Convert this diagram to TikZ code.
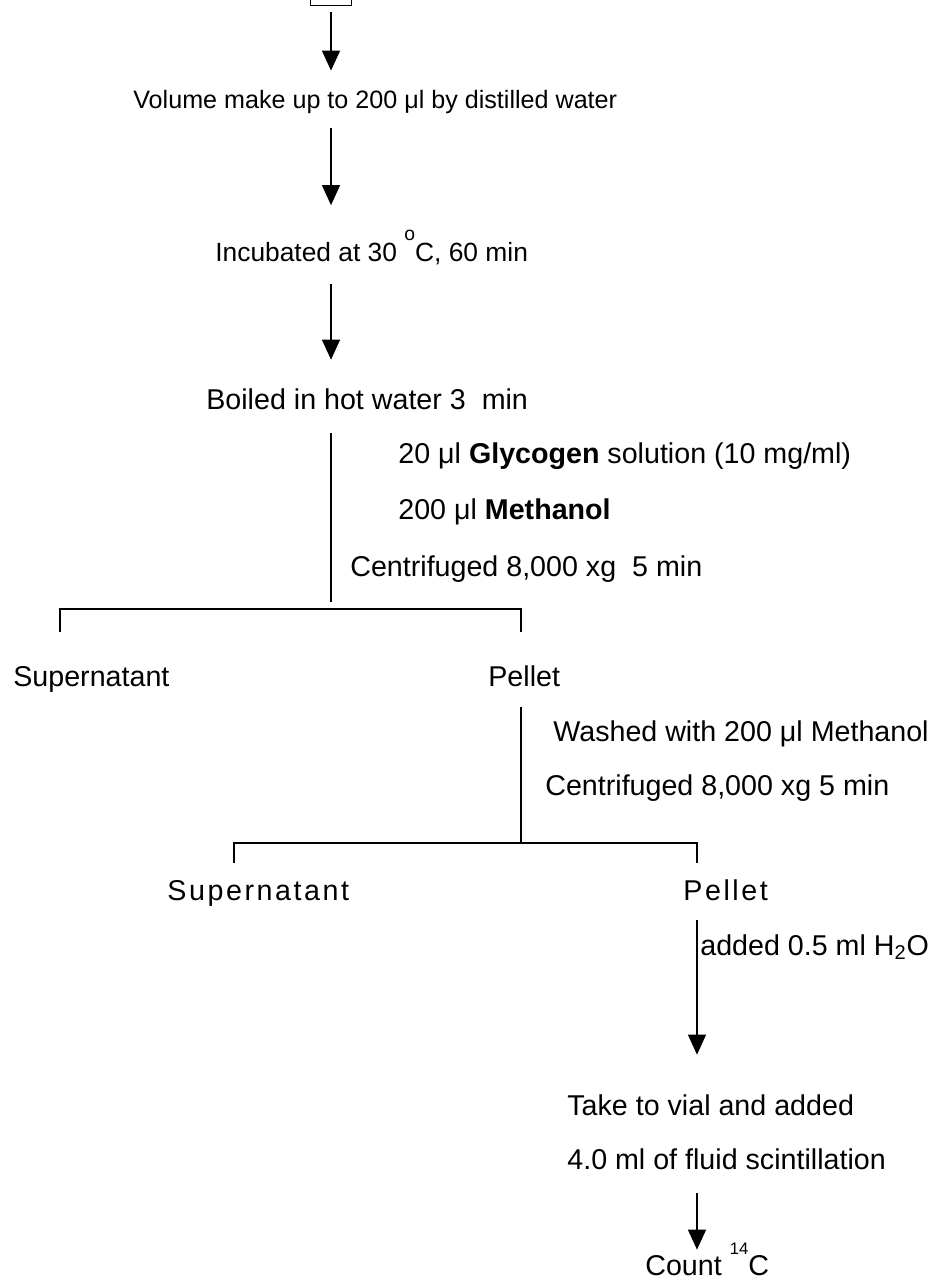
\documentclass[tikz,border=0pt]{standalone}
\usepackage{fontspec}
\setmainfont{Liberation Sans}
\newfontfamily\spacedfont[LetterSpace=9]{Liberation Sans}
\usetikzlibrary{arrows.meta}

\begin{document}
\begin{tikzpicture}[
    flow/.style  = {-{Triangle[width=0.36cm, length=0.4cm]}, line width=0.7pt},
    stem/.style  = {line width=0.7pt},
    stage/.style = {inner sep=0pt, anchor=base west, text height=0.4cm, text depth=0.13cm,
                    font=\fontsize{16.3}{19.5}\selectfont},
    note/.style  = {stage, font=\fontsize{14.3}{17.2}\selectfont},
]
    \useasboundingbox (0,0) rectangle (18.62,-25.64);

    % Reaction tube, cut by the top edge
    \node[draw, line width=0.7pt, minimum width=0.82cm, minimum height=1cm, anchor=south] (sample) at (6.62,-0.12) {};

    \node[note]  (volume) at (2.66,-2.18)  {Volume make up to 200 μl by distilled water};
    \node[note, font=\fontsize{15}{18}\selectfont]
                 (incub)  at (4.3,-5.24)   {Incubated at 30 \raisebox{0.82em}{\fontsize{11}{11}\selectfont o}C, 60 min};
    \node[stage] (boiled) at (4.12,-8.19)  {Boiled in hot water 3 \ min};

    \node[stage] (glyco)  at (7.96,-9.27)  {20 μl \textbf{Glycogen} solution (10 mg/ml)};
    \node[stage] (meoh)   at (7.96,-10.39) {200 μl \textbf{Methanol}};
    \node[stage] (spin1)  at (7.0,-11.52)  {Centrifuged 8,000 xg \ 5 min};

    \node[stage] (sup1)   at (0.26,-13.72) {Supernatant};
    \node[stage] (pel1)   at (9.76,-13.72) {Pellet};

    \node[stage] (wash)   at (11.06,-14.83) {Washed with 200 μl Methanol};
    \node[stage] (spin2)  at (10.9,-15.9)   {Centrifuged 8,000 xg 5 min};

    \node[stage] (sup2)   at (3.34,-18.01)  {\spacedfont Supernatant};
    \node[stage] (pel2)   at (13.66,-18.01) {\spacedfont Pellet};

    \node[stage] (water)  at (14.0,-19.1)   {added 0.5 ml H\textsubscript{2}O};
    \node[stage] (vial)   at (11.34,-22.3)  {Take to vial and added};
    \node[stage] (fluid)  at (11.34,-23.38) {4.0 ml of fluid scintillation};
    \node[stage] (count)  at (12.9,-25.5)   {Count \raisebox{0.7em}{\fontsize{9.5}{9.5}\selectfont 14}C};

    % Branch points of the two centrifugations
    \coordinate (split1) at (6.62,-12.18);
    \coordinate (tickA1) at (1.2,-12.64);
    \coordinate (tickA2) at (10.42,-12.64);
    \coordinate (split2) at (10.42,-16.86);
    \coordinate (tickB1) at (4.68,-17.26);
    \coordinate (tickB2) at (13.94,-17.26);

    \draw[flow, shorten <=0.12cm, shorten >=0.36cm] (sample.south) -- (sample.south |- volume.north);
    \draw[flow, shorten <=0.25cm, shorten >=0.73cm] (sample.south |- volume.south) -- (sample.south |- incub.north);
    \draw[flow, shorten <=0.30cm, shorten >=0.59cm] (sample.south |- incub.south) -- (sample.south |- boiled.north);
    \draw[stem, shorten <=0.34cm, shorten >=0.14cm] (sample.south |- boiled.south) -- (split1);
    \draw[stem] (tickA1) |- (split1) -| (tickA2);   % first split

    \draw[stem, shorten <=0.29cm] (split2 |- pel1.south) -- (split2);
    \draw[stem] (tickB1) |- (split2) -| (tickB2);   % second split

    \draw[flow, shorten <=0.26cm, shorten >=0.8cm] (tickB2 |- pel2.south) -- (tickB2 |- vial.north);
    \draw[flow, shorten <=0.35cm, shorten >=0.1cm] (tickB2 |- fluid.south) -- (tickB2 |- count.north);
\end{tikzpicture}
\end{document}
